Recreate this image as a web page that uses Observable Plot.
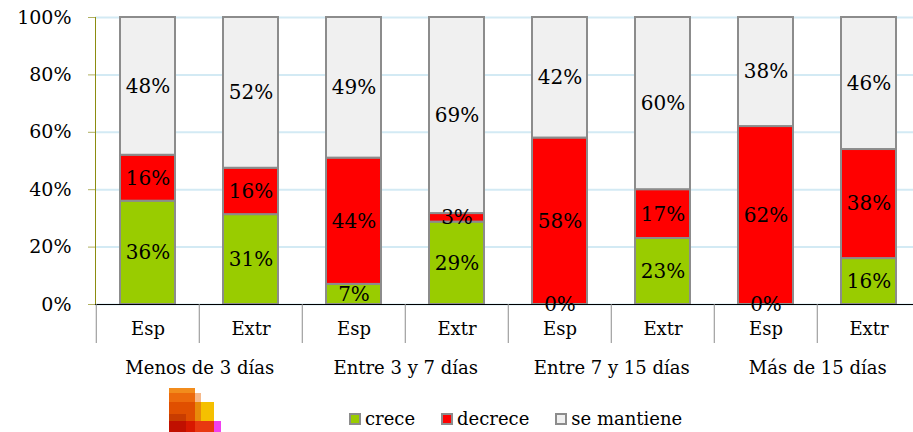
<!DOCTYPE html>
<html>
<head>
<meta charset="utf-8">
<script src="https://cdn.jsdelivr.net/npm/d3@7"></script>
<script src="https://cdn.jsdelivr.net/npm/@observablehq/plot@0.6"></script>
<style>
  body { margin: 0; background: white; }
  #wrap { width: 913px; font-family: "DejaVu Serif", serif; color: black; }
  #legend { position: relative; width: 913px; height: 44px; font-size: 18px; }
  .sw { display: inline-block; width: 8px; height: 8px; border: 2px solid #8c8c8c; margin-right: 4px; }
  .item { display: flex; align-items: center; }
</style>
</head>
<body>
<div id="wrap"></div>
<script>
const groups = ["Menos de 3 días", "Entre 3 y 7 días", "Entre 7 y 15 días", "Más de 15 días"];
const origins = ["Esp", "Extr"];
const series = ["crece", "decrece", "se mantiene"];
const crece    = [36, 31, 7, 29, 0, 23, 0, 16];
const decrece  = [16, 16, 44, 3, 58, 17, 62, 38];
const mantiene = [48, 52, 49, 69, 42, 60, 38, 46];
const yTicks = [0, 0.2, 0.4, 0.6, 0.8, 1];
const colors = ["#99cc00", "#ff0000", "#f0f0f0"];

const keys = groups.flatMap(g => origins.map(o => g + "|" + o));
const values = [crece, decrece, mantiene];
const data = keys.flatMap((k, i) => series.map((s, j) => ({key: k, s, v: values[j][i]})));

const x0 = 94, x1 = 922;
const step = (x1 - x0) / keys.length;

const chart = Plot.plot({
  width: 913,
  height: 388,
  marginLeft: 95,
  marginRight: 0,
  marginTop: 17,
  marginBottom: 84,
  style: {fontFamily: "DejaVu Serif, serif", fontSize: "18px", background: "white", color: "black", overflow: "visible"},
  x: {domain: keys, range: [x0, x1], paddingInner: 0.47, paddingOuter: 0.235, axis: null},
  y: {domain: [0, 1], axis: null},
  color: {domain: series, range: colors},
  marks: [
    Plot.gridY(yTicks, {stroke: "#d3eaf4", strokeOpacity: 1, strokeWidth: 2}),
    Plot.axisY(yTicks, {tickFormat: d3.format(".0%"), tickSize: 7, tickPadding: 17, stroke: "#b0b060", fontSize: 19, label: null}),
    Plot.frame({anchor: "left", stroke: "#8c8c10"}),
    Plot.barY(data.filter(d => d.v > 0), Plot.stackY({x: "key", y: "v", fill: "s", order: series, offset: "normalize", stroke: "#8c8c8c", strokeWidth: 2})),
    Plot.ruleY([0], {stroke: "black"}),
    Plot.text(data, Plot.stackY({x: "key", y: "v", z: "s", order: series, offset: "normalize", text: d => d.v + "%", fontSize: 20, fill: "black"})),
    Plot.axisX({tickSize: 39, dx: -step / 2, tickFormat: () => "", stroke: "#8c8c8c", label: null}),
    Plot.axisX({tickSize: 0, tickPadding: 18, tickFormat: k => k.split("|")[1], fontSize: 18, label: null}),
    Plot.text(groups, {x: g => g + "|" + origins[0], dx: step / 2, frameAnchor: "bottom", dy: 69, text: d => d, fontSize: 18, fill: "black"})
  ]
});

const wrap = document.getElementById("wrap");
wrap.appendChild(chart);

// legend
const legend = document.createElement("div");
legend.id = "legend";
// decorative logo
const logo = [
  [169, 0, 26, 5, "#f28c1c"],
  [169, 5, 26, 9, "#ec6a0c"], [195, 5, 6, 9, "#f6b98a"],
  [169, 14, 26, 19, "#e04f00"], [169, 26, 17, 7, "#c83c00"],
  [195, 14, 6, 19, "#e88a0a"], [201, 14, 13, 19, "#f5c000"],
  [169, 33, 17, 11, "#c01000"], [186, 33, 9, 11, "#d81800"],
  [195, 33, 19, 11, "#e83810"], [214, 33, 7, 11, "#f040f0"]
];
for (const [x, y, w, h, c] of logo) {
  const r = document.createElement("div");
  r.style.cssText = `position:absolute;left:${x}px;top:${y}px;width:${w}px;height:${h}px;background:${c}`;
  legend.appendChild(r);
}
const row = document.createElement("div");
row.style.cssText = "position:absolute;left:349px;top:19px;display:flex;gap:26px;line-height:24px;";
series.forEach((s, i) => {
  const it = document.createElement("div");
  it.className = "item";
  const sw = document.createElement("span");
  sw.className = "sw";
  sw.style.background = colors[i];
  const t = document.createElement("span");
  t.textContent = s;
  it.appendChild(sw);
  it.appendChild(t);
  row.appendChild(it);
});
legend.appendChild(row);
wrap.appendChild(legend);
</script>
</body>
</html>
